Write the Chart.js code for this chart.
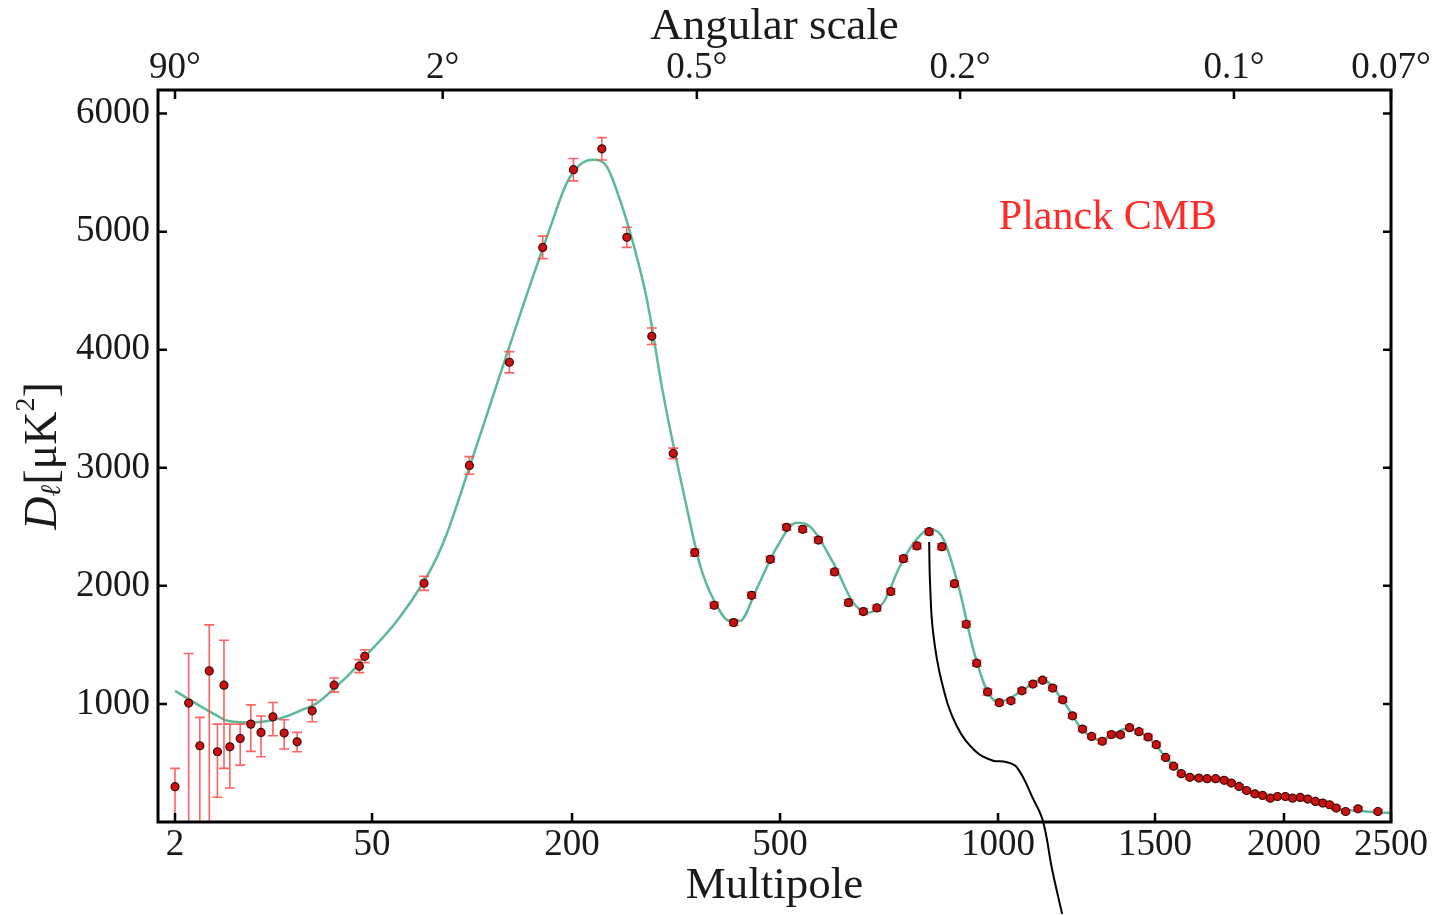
<!DOCTYPE html>
<html>
<head>
<meta charset="utf-8">
<title>Planck CMB power spectrum</title>
<script src="https://cdn.jsdelivr.net/npm/chart.js@4.4.1/dist/chart.umd.min.js"></script>
<style>
  html, body { margin: 0; padding: 0; background: #fff; }
  #wrap { width: 1443px; height: 915px; }
</style>
</head>
<body>
<div id="wrap"><canvas id="cmb" width="1443" height="915"></canvas></div>
<script>
// band powers, D_l in uK^2
const obsEll = [2, 2.5, 3, 3.5, 4, 4.45, 4.9, 5.8, 6.9, 8.15, 9.9, 11.9, 14.7, 18.8, 26.9,
  40.6, 44.4, 89, 123, 153, 178, 202, 243, 279, 315, 346, 377, 405, 433, 459, 486,
  515, 552, 588, 625, 657, 691, 722, 754, 783, 814, 842, 871, 900, 927, 951, 976,
  1004, 1041, 1076, 1111, 1142, 1174, 1206, 1237, 1269, 1298, 1332, 1361, 1390, 1419, 1449, 1478,
  1505, 1541, 1572, 1602, 1635, 1670, 1702, 1735, 1768, 1796, 1826, 1855, 1887, 1917, 1947, 1975,
  2006, 2040, 2076, 2111, 2147, 2181, 2213, 2244, 2288, 2346, 2439];
const obsD = [299, 1007, 646, 1280, 595, 1159, 637, 708, 829, 759, 891, 753, 679, 942, 1159,
  1320, 1404, 2022, 3020, 3894, 4867, 5525, 5702, 4952, 4114, 3122, 2282, 1836, 1689, 1920, 2225,
  2496, 2479, 2388, 2118, 1858, 1782, 1813, 1952, 2230, 2338, 2459, 2332, 2019, 1675, 1345, 1102,
  1011, 1026, 1111, 1168, 1201, 1134, 1035, 899, 787, 725, 684, 741, 738, 799, 765, 720,
  655, 547, 473, 409, 378, 372, 367, 367, 353, 330, 301, 267, 239, 225, 202, 216,
  216, 202, 208, 194, 174, 160, 146, 118, 89, 112, 89];
const obsErrUp = [155, 420, 240, 390, 234, 381, 192, 121, 163, 139, 121, 113, 80, 92, 61,
  55, 55, 60, 75, 90, 95, 95, 95, 85, 70, 45, 30, 25, 25, 25, 25,
  25, 25, 25, 25, 25, 25, 25, 25, 25, 25, 25, 25, 25, 25, 25, 25,
  20, 20, 20, 20, 20, 20, 20, 20, 20, 20, 20, 20, 20, 20, 20, 20,
  20, 15, 15, 15, 15, 15, 15, 15, 15, 15, 15, 15, 15, 15, 15, 15,
  15, 15, 15, 15, 15, 15, 15, 15, 15, 15, 15];
const obsErrDown = [299, 1007, 646, 1280, 386, 705, 349, 226, 231, 206, 161, 135, 84, 93, 59,
  55, 55, 60, 75, 90, 95, 95, 95, 85, 70, 45, 30, 25, 25, 25, 25,
  25, 25, 25, 25, 25, 25, 25, 25, 25, 25, 25, 25, 25, 25, 25, 25,
  20, 20, 20, 20, 20, 20, 20, 20, 20, 20, 20, 20, 20, 20, 20, 20,
  20, 15, 15, 15, 15, 15, 15, 15, 15, 15, 15, 15, 15, 15, 15, 15,
  15, 15, 15, 15, 15, 15, 15, 15, 15, 15, 15];

// best-fit model curve, sampled from the figure
const modelEll = [2, 3, 4, 4.7, 6.8, 9.4, 11.7, 15.4, 20.3, 26.6, 35, 43, 68.5, 89, 98.5, 106,
  123, 135, 146, 161, 171, 183.5, 196, 211.5, 231, 250, 269, 288, 308, 332, 365, 385, 404,
  428, 442, 466, 495, 538, 561, 622, 668, 699, 737, 775, 813, 844, 875, 913, 943, 976,
  1003, 1070, 1140, 1204, 1267, 1325, 1414, 1484, 1558, 1636, 1733, 1830, 1926, 2028, 2145,
  2262, 2355, 2500];
const modelD = [1111, 984, 899, 857, 842, 857, 886, 942, 1007, 1125, 1258, 1379, 1700, 2039, 2239, 2439,
  3003, 3410, 3790, 4298, 4630, 5032, 5411, 5567, 5609, 5552, 5271, 4904, 4425, 3607, 2676, 2168, 1887,
  1702, 1702, 1971, 2324, 2534, 2521, 2196, 1858, 1773, 1858, 2168, 2394, 2479, 2394, 1943, 1464, 1102,
  1015, 1100, 1210, 1040, 787, 694, 795, 702, 508, 381, 372, 305, 220, 212, 178,
  110, 93, 76];

// leader line from the third peak, runs off the bottom of the figure
const leaderEll = [842, 844, 851, 871, 905, 951, 989, 1022, 1060, 1112, 1143, 1172, 1204];
const leaderD = [2371, 2030, 1607, 1184, 815, 590, 519, 510, 463, 195, 8, -398, -778];

const multipoleTicks = [2, 50, 200, 500, 1000, 1500, 2000, 2500];
const angleTickEll = [2, 103, 380, 913, 1806, 2500];
const angleTickLabels = ['90°', '2°', '0.5°', '0.2°', '0.1°', '0.07°'];
const yTicks = [1000, 2000, 3000, 4000, 5000, 6000];

// the multipole axis: log up to l=50, then linear pieces between the printed ticks
const breakEll = [1.5, 2, 50, 200, 500, 1000, 1500, 2000, 2500];
const breakPos = [0, 0.0138, 0.1736, 0.3358, 0.5045, 0.6813, 0.8086, 0.9132, 1];

function warpEll(v) {
  let i = 0;
  while (i < breakEll.length - 2 && v > breakEll[i + 1]) i++;
  const a = breakEll[i], b = breakEll[i + 1];
  const t = b <= 50 ? Math.log(v / a) / Math.log(b / a) : (v - a) / (b - a);
  return breakPos[i] + t * (breakPos[i + 1] - breakPos[i]);
}

function unwarpEll(f) {
  let i = 0;
  while (i < breakPos.length - 2 && f > breakPos[i + 1]) i++;
  const a = breakEll[i], b = breakEll[i + 1];
  const t = (f - breakPos[i]) / (breakPos[i + 1] - breakPos[i]);
  return b <= 50 ? a * Math.pow(b / a, t) : a + t * (b - a);
}

class MultipoleScale extends Chart.LinearScale {
  getPixelForValue(value) {
    return this.getPixelForDecimal(warpEll(value));
  }
  getValueForPixel(pixel) {
    return unwarpEll(this.getDecimalForPixel(pixel));
  }
}
MultipoleScale.id = 'multipole';
MultipoleScale.defaults = Chart.LinearScale.defaults;
Chart.register(MultipoleScale);

const SERIF = '"Liberation Serif", "DejaVu Serif", serif';

const framePlugin = {
  id: 'frame',
  beforeDatasetDraw(chart, args) {
    if (args.index !== 0) return;
    // error bars under the markers
    const { ctx, chartArea: ca } = chart;
    const xs = chart.scales.x, ys = chart.scales.y;
    ctx.save();
    ctx.beginPath();
    ctx.rect(ca.left, ca.top, ca.right - ca.left, ca.bottom - ca.top);
    ctx.clip();
    ctx.strokeStyle = 'rgba(255, 70, 70, 0.85)';
    ctx.lineWidth = 1.6;
    obsEll.forEach((l, i) => {
      const x = xs.getPixelForValue(l);
      const yHi = ys.getPixelForValue(obsD[i] + obsErrUp[i]);
      const yLo = ys.getPixelForValue(Math.max(0, obsD[i] - obsErrDown[i]));
      ctx.beginPath();
      ctx.moveTo(x, yHi);
      ctx.lineTo(x, yLo);
      ctx.moveTo(x - 5, yHi);
      ctx.lineTo(x + 5, yHi);
      if (obsD[i] - obsErrDown[i] > 0) {
        ctx.moveTo(x - 5, yLo);
        ctx.lineTo(x + 5, yLo);
      }
      ctx.stroke();
    });
    ctx.restore();
  },
  afterDraw(chart) {
    const { ctx, chartArea: ca } = chart;
    const xs = chart.scales.x, xt = chart.scales.xTop, ys = chart.scales.y;
    ctx.save();
    ctx.strokeStyle = '#000';
    ctx.lineWidth = 3;
    ctx.strokeRect(ca.left, ca.top, ca.right - ca.left, ca.bottom - ca.top);
    ctx.lineWidth = 2.5;
    ctx.beginPath();
    multipoleTicks.forEach((v) => {
      const x = xs.getPixelForValue(v);
      ctx.moveTo(x, ca.bottom);
      ctx.lineTo(x, ca.bottom - 9);
    });
    angleTickEll.forEach((v) => {
      const x = xt.getPixelForValue(v);
      ctx.moveTo(x, ca.top);
      ctx.lineTo(x, ca.top + 9);
    });
    yTicks.forEach((v) => {
      const y = ys.getPixelForValue(v);
      ctx.moveTo(ca.left, y);
      ctx.lineTo(ca.left + 9, y);
      ctx.moveTo(ca.right, y);
      ctx.lineTo(ca.right - 8, y);
    });
    ctx.stroke();

    // label inside the plot
    ctx.fillStyle = '#ff2b2b';
    ctx.font = '42px ' + SERIF;
    ctx.textAlign = 'center';
    ctx.textBaseline = 'middle';
    ctx.fillText('Planck CMB', xs.getPixelForValue(1350), ys.getPixelForValue(5118));

    // y axis title: D_l [uK^2]
    const parts = [
      { t: 'D', font: 'italic 46px ' + SERIF, dy: 0 },
      { t: 'ℓ', font: 'italic 28px ' + SERIF, dy: 9 },
      { t: '[μK', font: '46px ' + SERIF, dy: 0 },
      { t: '2', font: '28px ' + SERIF, dy: -17 },
      { t: ']', font: '46px ' + SERIF, dy: 0 }
    ];
    let w = 0;
    parts.forEach((p) => { ctx.font = p.font; p.w = ctx.measureText(p.t).width; w += p.w; });
    ctx.translate(44, (ca.top + ca.bottom) / 2);
    ctx.rotate(-Math.PI / 2);
    ctx.fillStyle = '#1a1a1a';
    ctx.textAlign = 'left';
    ctx.textBaseline = 'middle';
    let x = -w / 2;
    parts.forEach((p) => {
      ctx.font = p.font;
      ctx.fillText(p.t, x, p.dy);
      x += p.w;
    });
    ctx.restore();
  }
};

const tickFont = { family: SERIF, size: 37 };

new Chart(document.getElementById('cmb'), {
  type: 'scatter',
  data: {
    datasets: [
      {
        label: 'Planck CMB',
        data: obsEll.map((l, i) => ({ x: l, y: obsD[i] })),
        pointRadius: 4,
        pointBackgroundColor: '#cc1111',
        pointBorderColor: '#3b0a0a',
        pointBorderWidth: 1.2,
        showLine: false,
        order: 0
      },
      {
        label: 'model',
        data: modelEll.map((l, i) => ({ x: l, y: modelD[i] })),
        showLine: true,
        borderColor: '#5cb99a',
        borderWidth: 2.5,
        pointRadius: 0,
        cubicInterpolationMode: 'monotone',
        order: 1
      },
      {
        label: 'leader',
        data: leaderEll.map((l, i) => ({ x: l, y: leaderD[i] })),
        showLine: true,
        borderColor: '#000',
        borderWidth: 2,
        pointRadius: 0,
        tension: 0.4,
        clip: false,
        order: 2
      }
    ]
  },
  options: {
    responsive: false,
    animation: false,
    events: [],
    layout: { padding: { left: 0, right: 52, top: 0, bottom: 0 } },
    plugins: { legend: { display: false }, tooltip: { enabled: false } },
    scales: {
      x: {
        type: 'multipole',
        position: 'bottom',
        min: 1.5,
        max: 2500,
        grid: { display: false, drawTicks: false },
        border: { display: false },
        afterBuildTicks: (s) => { s.ticks = multipoleTicks.map((v) => ({ value: v })); },
        afterFit: (s) => { s.height = 93; },
        ticks: {
          font: tickFont,
          color: '#1a1a1a',
          padding: 1,
          maxRotation: 0,
          autoSkip: false,
          callback: (v) => String(v)
        },
        title: {
          display: true,
          text: 'Multipole',
          font: { family: SERIF, size: 45 },
          color: '#1a1a1a',
          padding: { top: 0, bottom: 2 }
        }
      },
      xTop: {
        type: 'multipole',
        position: 'top',
        min: 1.5,
        max: 2500,
        grid: { display: false, drawTicks: false },
        border: { display: false },
        afterBuildTicks: (s) => { s.ticks = angleTickEll.map((v) => ({ value: v })); },
        afterFit: (s) => { s.height = 90; },
        ticks: {
          font: tickFont,
          color: '#1a1a1a',
          padding: 0,
          maxRotation: 0,
          autoSkip: false,
          callback: (v, i) => angleTickLabels[i]
        },
        title: {
          display: true,
          text: 'Angular scale',
          font: { family: SERIF, size: 45 },
          color: '#1a1a1a',
          padding: { top: 0, bottom: 0 }
        }
      },
      y: {
        type: 'linear',
        position: 'left',
        min: 0,
        max: 6200,
        grid: { display: false, drawTicks: false },
        border: { display: false },
        afterBuildTicks: (s) => { s.ticks = yTicks.map((v) => ({ value: v })); },
        afterFit: (s) => { s.width = 158; },
        ticks: {
          font: tickFont,
          color: '#1a1a1a',
          padding: 8,
          callback: (v) => String(v)
        }
      }
    }
  },
  plugins: [framePlugin]
});
</script>
</body>
</html>
